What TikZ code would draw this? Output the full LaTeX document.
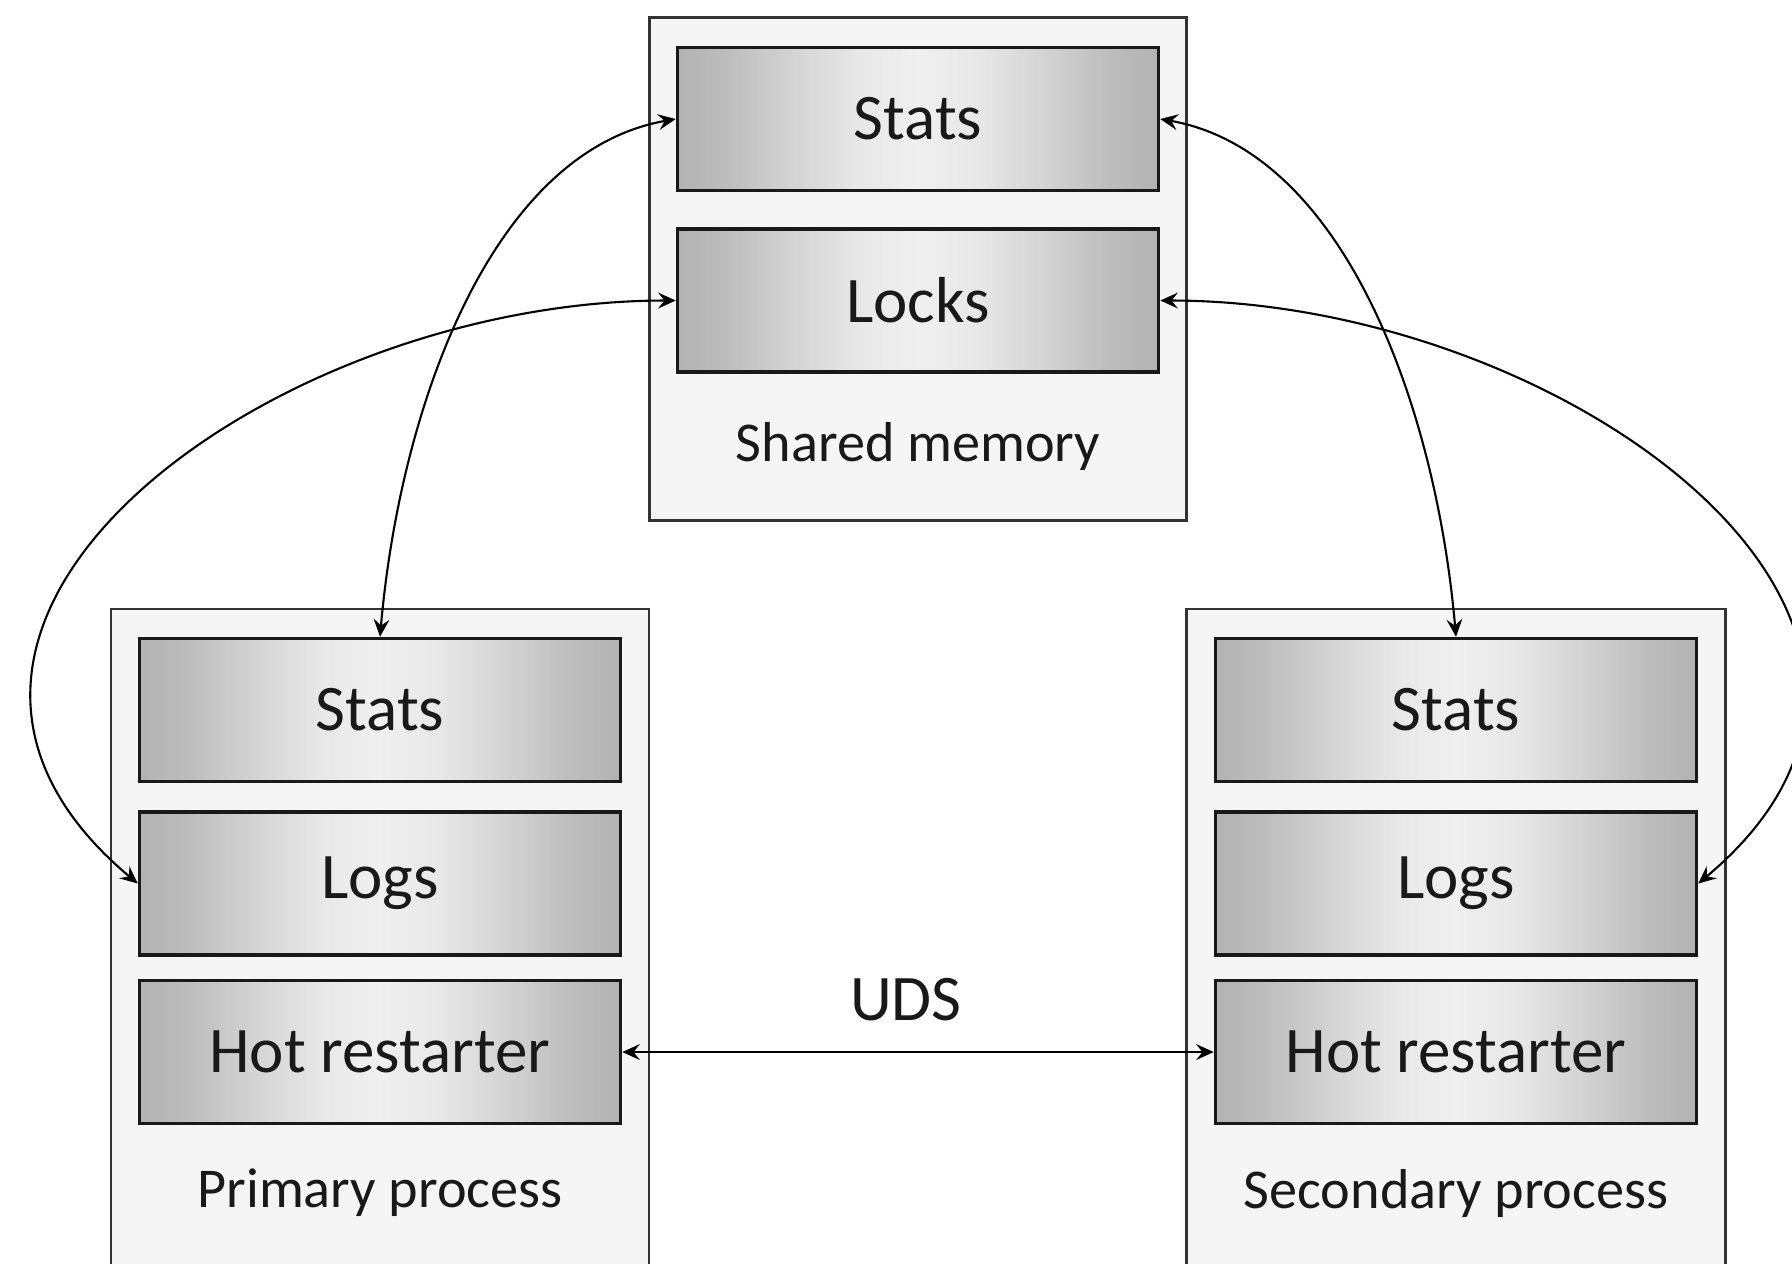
\documentclass[tikz,border=0pt]{standalone}
\usepackage{fontspec}
\setmainfont{Carlito}
\usetikzlibrary{positioning,arrows.meta}

\pgfdeclarehorizontalshading{slotshade}{100bp}{%
  color(0bp)=(black!30); color(25bp)=(black!30); color(30bp)=(black!26);
  color(37bp)=(black!17); color(44bp)=(black!9); color(50bp)=(black!6);
  color(56bp)=(black!9); color(63bp)=(black!17); color(70bp)=(black!26);
  color(75bp)=(black!30); color(100bp)=(black!30)}

\begin{document}
\begin{tikzpicture}[
  holder/.style = {draw = black!80, line width = 0.6pt, fill = black!4, inner sep = 0pt},
  slot/.style = {draw = black!90, line width = 1pt, shade, shading = slotshade, text = black!90,
                 minimum width = 4.81cm, minimum height = 1.43cm, inner sep = 0pt,
                 font = \fontsize{18.5}{22}\selectfont},
  boxlabel/.style = {text = black!90, inner sep = 0pt, font = \fontsize{16}{19}\selectfont},
  link/.style = {<->, line width = 0.6pt, >={Stealth[length=5pt, width=4.5pt, inset=1.8pt]}},
  ]
  \useasboundingbox (0,0) rectangle (17.92,-12.63);
  \clip (0,0) rectangle (17.92,-12.63);

  % shared memory
  \node[holder, minimum width = 5.37cm, minimum height = 5.03cm] (shm) at (9.18,-2.69) {};
  \node[slot] (smStats) at (9.18,-1.19) {Stats};
  \node[slot, below = 0.35cm of smStats] (smLocks) {Locks};
  \node[boxlabel] (smName) at (9.18,-4.46) {Shared memory};

  % primary process
  \node[holder, minimum width = 5.38cm, minimum height = 7cm] (prim) at (3.80,-9.59) {};
  \node[slot] (pStats) at (3.80,-7.10) {Stats};
  \node[slot, below = 0.27cm of pStats] (pLogs) {Logs};
  \node[slot, below = 0.22cm of pLogs] (pHot) {Hot restarter};
  \node[boxlabel] (pName) at (3.80,-11.93) {Primary process};

  % secondary process
  \node[holder, minimum width = 5.39cm, minimum height = 7cm] (sec) at (14.56,-9.59) {};
  \node[slot] (sStats) at (14.56,-7.10) {Stats};
  \node[slot, below = 0.27cm of sStats] (sLogs) {Logs};
  \node[slot, below = 0.22cm of sLogs] (sHot) {Hot restarter};
  \node[boxlabel] (sName) at (14.56,-11.93) {Secondary process};

  % links
  \draw[link] (smStats.west) to[out=190, in=85, out looseness=0.8] (pStats.north);
  \draw[link] (smStats.east) to[out=-10, in=95, out looseness=0.8] (sStats.north);
  \draw[link] (smLocks.west) to[out=180, in=140, looseness=1.3] (pLogs.west);
  \draw[link] (smLocks.east) to[out=0, in=40, looseness=1.3] (sLogs.east);
  \draw[link] (pHot) -- (sHot);
  \node[boxlabel, font = \fontsize{18.5}{22}\selectfont] (uds) at (9.06,-10.00) {UDS};
\end{tikzpicture}
\end{document}
